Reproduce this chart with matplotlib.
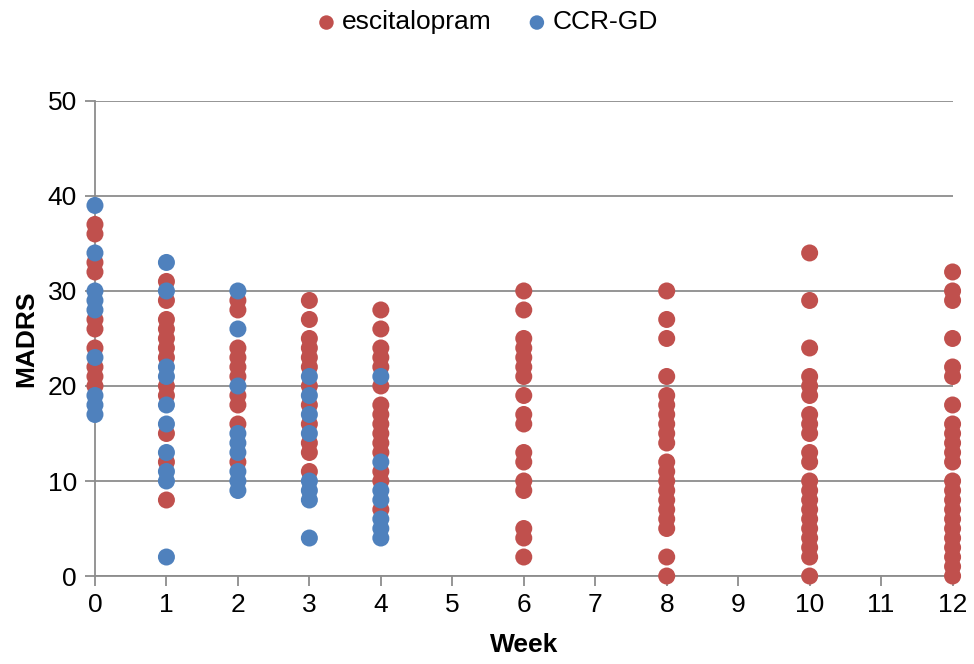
import matplotlib
matplotlib.use('Agg')
import matplotlib.pyplot as plt

plt.rcParams['font.family'] = ['Liberation Sans', 'DejaVu Sans']

RED = '#C0504D'
BLUE = '#4F81BD'
GRID = '#8C8C8C'

# MADRS scores per week
esc_scores = {
    0: [37, 36, 33, 32, 27, 26, 24, 22, 21, 20],
    1: [31, 29, 27, 26, 25, 24, 23, 20, 19, 15, 12, 8],
    2: [29, 28, 24, 23, 22, 21, 19, 18, 16, 12],
    3: [29, 27, 25, 24, 23, 22, 20, 18, 16, 14, 13, 11],
    4: [28, 26, 24, 23, 22, 20, 18, 17, 16, 15, 14, 13, 11, 10, 7],
    6: [30, 28, 25, 24, 23, 22, 21, 19, 17, 16, 13, 12, 10, 9, 5, 4, 2],
    8: [30, 27, 25, 21, 19, 18, 17, 16, 15, 14, 12, 11, 10, 9, 8, 7, 6, 5, 2, 0],
    10: [34, 29, 24, 21, 20, 19, 17, 16, 15, 13, 12, 10, 9, 8, 7, 6, 5, 4, 3, 2, 0],
    12: [32, 30, 29, 25, 22, 21, 18, 16, 15, 14, 13, 12, 10, 9, 8, 7, 6, 5, 4, 3, 2, 1, 0],
}
ccr_scores = {
    0: [39, 34, 30, 29, 28, 23, 19, 18, 17],
    1: [33, 30, 22, 21, 18, 16, 13, 11, 10, 2],
    2: [30, 26, 20, 15, 14, 13, 11, 10, 9],
    3: [21, 19, 17, 15, 10, 9, 8, 4],
    4: [21, 12, 9, 8, 6, 5, 4],
}


def flatten(d):
    xs, ys = [], []
    for wk, vals in d.items():
        xs += [wk] * len(vals)
        ys += vals
    return xs, ys


fig = plt.figure(figsize=(9.74, 6.64), dpi=100)
ax = fig.add_axes([0.0975, 0.1325, 0.8805, 0.7155])

ex, ey = flatten(esc_scores)
cx, cy = flatten(ccr_scores)
ax.scatter(ex, ey, s=150, color=RED, edgecolors='none', clip_on=False,
           zorder=3, label='escitalopram')
ax.scatter(cx, cy, s=150, color=BLUE, edgecolors='none', clip_on=False,
           zorder=4, label='CCR-GD')

ax.set_xlim(0, 12)
ax.set_ylim(0, 50)
ax.set_xticks(range(0, 13))
ax.set_yticks(range(0, 51, 10))
ax.yaxis.grid(True, color=GRID, linewidth=1.3)
ax.set_axisbelow(True)

for side in ['top', 'right']:
    ax.spines[side].set_visible(False)
for side in ['left', 'bottom']:
    ax.spines[side].set_color(GRID)
    ax.spines[side].set_linewidth(1.3)

ax.tick_params(axis='both', labelsize=19, color=GRID, width=1.3, length=7)
ax.tick_params(axis='x', pad=5)
ax.tick_params(axis='y', pad=6)

ax.set_xlabel('Week', fontsize=19, fontweight='bold', labelpad=12)
ax.set_ylabel('MADRS', fontsize=19, fontweight='bold', labelpad=7)

fig.legend(loc='upper center', bbox_to_anchor=(0.5, 1.02), ncol=2,
           frameon=False, fontsize=19, markerscale=0.85,
           handlelength=0.8, handletextpad=0.2, columnspacing=1.3)

fig.savefig('out.png', dpi=100)
